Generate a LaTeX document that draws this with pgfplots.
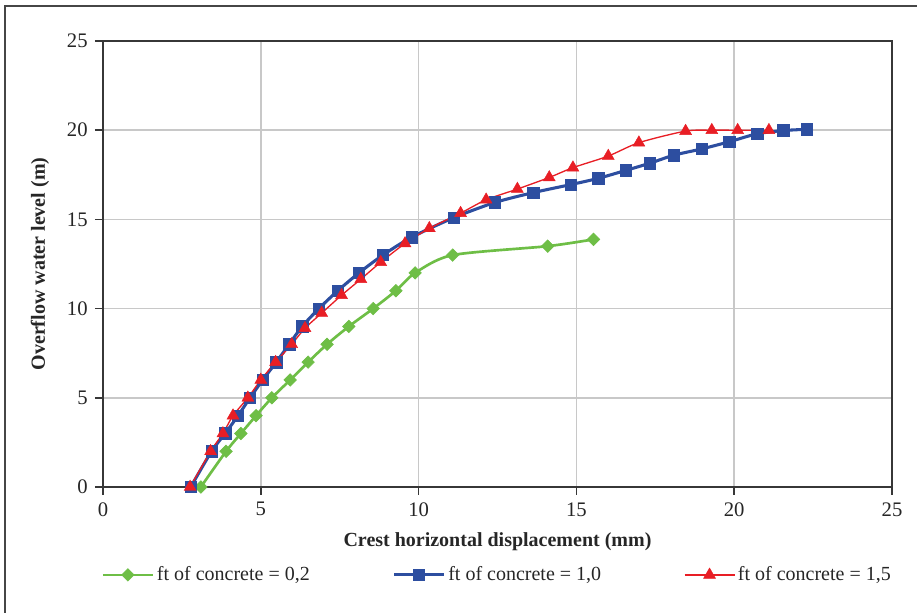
\documentclass[border=0pt]{standalone}
\usepackage{fontspec}
\setmainfont{Liberation Serif}
\usepackage{pgfplots}
\pgfplotsset{compat=1.18}
\definecolor{cgreen}{RGB}{110,190,70}
\definecolor{cblue}{RGB}{45,78,160}
\definecolor{cred}{RGB}{232,30,37}
\definecolor{gridgray}{RGB}{200,200,200}
\definecolor{axisgray}{RGB}{55,55,55}
\definecolor{framegray}{RGB}{70,70,70}
\begin{document}
\begin{tikzpicture}[font=\fontsize{15}{18}\selectfont]
\begin{axis}[
  at={(77.25pt,94.5pt)}, anchor=south west,
  scale only axis, width=591.75pt, height=334.5pt,
  xmin=0, xmax=25, ymin=0, ymax=25,
  xtick={0,5,...,25}, ytick={0,5,...,25},
  grid=major,
  major grid style={color=gridgray, line width=1.1pt},
  axis line style={color=axisgray, line width=1.1pt},
  tick align=outside, xtick pos=left, ytick pos=left,
  major tick length=6pt,
  tick style={color=axisgray, line width=1.1pt},
  /pgf/number format/assume math mode=true,
  ticklabel style={font=\fontsize{15.5}{18}\selectfont, color=black!85},
  xticklabel style={yshift=-2pt},
  yticklabel style={xshift=-2pt},
  xlabel={Crest horizontal displacement (mm)},
  ylabel={Overflow water level (m)},
  label style={font=\bfseries\fontsize{15}{18}\selectfont, color=black!85},
  xlabel style={at={(axis description cs:0.5,-0.123)}, anchor=center},
  ylabel style={at={(axis description cs:-0.08,0.5)}, anchor=center, rotate=0},
  legend style={at={(axis description cs:0.5,-0.197)}, anchor=center, draw=none, fill=none,
    legend columns=3, font=\fontsize{15}{18}\selectfont, text=black!85,
    /tikz/every even column/.append style={column sep=60pt}},
  legend cell align=left,
  legend image code/.code={\draw[mark repeat=2,mark phase=2] plot coordinates {(0cm,0cm)(0.66cm,0cm)(1.32cm,0cm)};},
]
\addplot[color=cgreen, line width=2pt, smooth, tension=0.45, mark=square*, mark size=3.3pt,
  mark options={solid, rotate=45, fill=cgreen, draw=cgreen, line width=0.5pt}]
coordinates {(3.10,0) (3.90,2) (4.37,3) (4.85,4) (5.35,5) (5.93,6) (6.50,7) (7.10,8) (7.79,9) (8.56,10) (9.28,11) (9.89,12) (11.08,13) (14.09,13.5) (15.54,13.88)};
\addlegendentry{ft of concrete = 0,2}
\addplot[color=cblue, line width=2.3pt, smooth, tension=0.45, mark=square*, mark size=4.3pt,
  mark options={solid, fill=cblue, draw=cblue, line width=0.5pt}]
coordinates {(2.78,0) (3.44,2) (3.87,3) (4.28,4) (4.66,5) (5.06,6) (5.49,7) (5.90,8) (6.31,9) (6.84,10) (7.44,11) (8.11,12) (8.87,13) (9.78,14) (11.12,15.1) (12.42,15.95) (13.63,16.5) (14.82,16.95) (15.69,17.3) (16.57,17.75) (17.33,18.15) (18.09,18.6) (18.97,18.95) (19.84,19.35) (20.73,19.8) (21.56,19.98) (22.30,20.05)};
\addlegendentry{ft of concrete = 1,0}
\addplot[color=cred, line width=1pt, smooth, tension=0.45, mark=triangle*, mark size=5.2pt,
  mark options={solid, fill=cred, draw=cred, line width=0.3pt}]
coordinates {(2.76,0) (3.41,2) (3.80,3) (4.12,4) (4.59,5) (5.0,6) (5.47,7) (5.98,8) (6.40,8.9) (6.93,9.75) (7.56,10.75) (8.17,11.65) (8.80,12.6) (9.57,13.65) (10.34,14.5) (11.33,15.35) (12.14,16.1) (13.13,16.7) (14.14,17.35) (14.89,17.9) (16.01,18.55) (16.98,19.3) (18.46,19.95) (19.29,20) (20.11,20) (21.10,20)};
\addlegendentry{ft of concrete = 1,5}
\end{axis}
\draw[color=framegray, line width=1.3pt] (3.75pt,-5pt) -- (3.75pt,455.25pt) -- (695pt,455.25pt);
\pgfresetboundingbox
\useasboundingbox (0,0) rectangle (687.75pt,459.75pt);
\end{tikzpicture}
\end{document}
